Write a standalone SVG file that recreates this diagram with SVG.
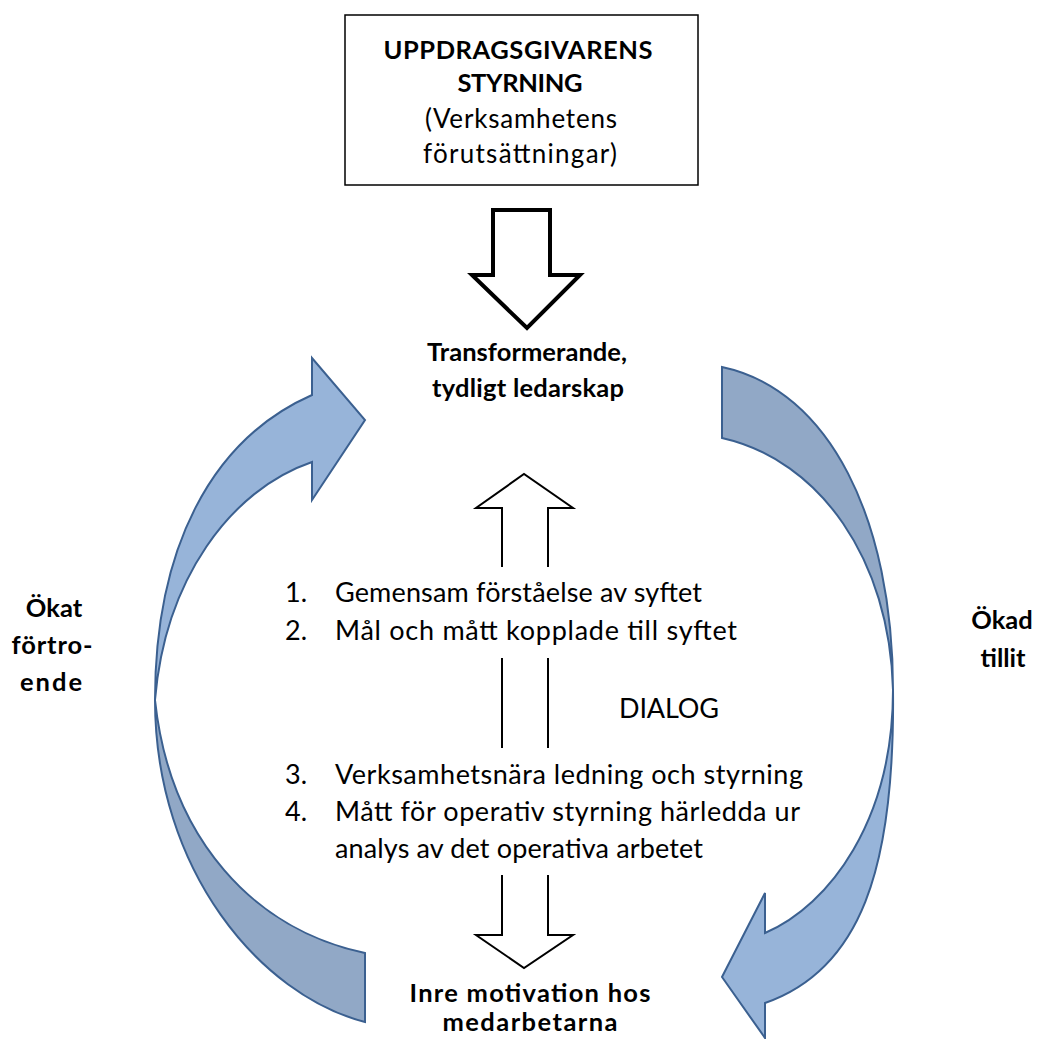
<svg xmlns="http://www.w3.org/2000/svg" width="1037" height="1039" viewBox="0 0 1037 1039">
<style>
.t{font-family:Lato,"Open Sans","Liberation Sans",sans-serif;fill:#000;}
.b{font-weight:bold;font-size:25.5px;text-anchor:middle;}
.n{font-size:26px;text-anchor:middle;}
.l{font-size:27px;}
.light{fill:#97B4D9;stroke:#3B6090;stroke-width:2;stroke-linejoin:miter;}
.dark{fill:#91A8C6;stroke:#3B6090;stroke-width:2;}
.blk{fill:none;stroke:#000;}
</style>
<rect width="1037" height="1039" fill="#fff"/>

<g id="top-box">
<rect x="345" y="15" width="353" height="170" fill="#fff" stroke="#000" stroke-width="1.5"/>
<text class="t b" x="518" y="59" textLength="269">UPPDRAGSGIVARENS</text>
<text class="t b" x="520" y="92" textLength="125">STYRNING</text>
<text class="t n" x="521" y="128" textLength="192">(Verksamhetens</text>
<text class="t n" x="520" y="163" textLength="194">förutsättningar)</text>
</g>

<g id="leadership">
<text class="t b" x="527" y="361" textLength="200">Transformerande,</text>
<text class="t b" x="528" y="397" textLength="192">tydligt ledarskap</text>
</g>

<g id="motivation">
<text class="t b" x="530" y="1002" textLength="241">Inre motivation hos</text>
<text class="t b" x="530" y="1031" textLength="175">medarbetarna</text>
</g>

<g id="label-left">
<text class="t b" x="54" y="617">Ökat</text>
<text class="t b" x="52" y="654" textLength="81">förtro-</text>
<text class="t b" x="51" y="691" textLength="62">ende</text>
</g>

<g id="label-right">
<text class="t b" x="1002" y="629">Ökad</text>
<text class="t b" x="1003" y="667">tillit</text>
</g>

<g id="list">
<text class="t l" x="285" y="602">1.</text>
<text class="t l" x="335" y="602" textLength="367">Gemensam förståelse av syftet</text>
<text class="t l" x="285" y="640">2.</text>
<text class="t l" x="335" y="640" textLength="402">Mål och mått kopplade till syftet</text>
<text class="t l" x="285" y="784">3.</text>
<text class="t l" x="335" y="784" textLength="468">Verksamhetsnära ledning och styrning</text>
<text class="t l" x="285" y="821">4.</text>
<text class="t l" x="335" y="821" textLength="465">Mått för operativ styrning härledda ur</text>
<text class="t l" x="335" y="858" textLength="368">analys av det operativa arbetet</text>
</g>

<g id="dialog">
<text class="t l" x="619" y="718" textLength="100">DIALOG</text>
</g>

<g id="connectors">
<polygon class="blk" stroke-width="4" points="493,210 550,210 550,275 580,275 527,328 472,275 493,275"/>
<path class="blk" stroke-width="2" d="M502,567 V508 H476 L524,474 L573,508 H548 V567"/>
<path class="blk" stroke-width="2" d="M502,658 V748 M548,658 V748"/>
<path class="blk" stroke-width="2" d="M502,875 V935 H476 L524,968 L573,935 H548 V875"/>

<path class="dark" d="M155,700 C155,870 260,995 365,1022 L365,953 C255,930 170,840 155,700 Z"/>
<path class="light" d="M155,700 C155,550 210,440 312,395 L312,358 L365,420 L312,500 L312,462 C230,490 165,580 155,700 Z"/>

<path class="dark" d="M893,690 C893,520 830,390 722,367 L722,438 C820,460 890,560 893,690 Z"/>
<path class="light" d="M893,690 C895,870 860,970 765,1003 L765,1038 L722,977 L765,893 L765,933 C830,905 893,820 893,690 Z"/>
</g>
</svg>
